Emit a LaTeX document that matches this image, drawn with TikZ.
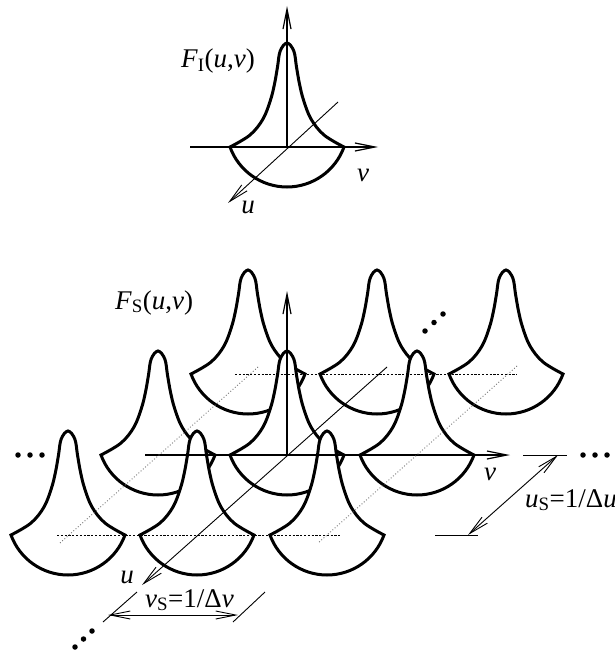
\documentclass[tikz,border=0pt]{standalone}
\usepackage{fontspec}
\setmainfont{Liberation Serif}
\usetikzlibrary{arrows.meta}
\tikzset{
  peakline/.style={line width=3pt, fill=white, line join=miter},
  axis/.style={line width=1.2pt},
  thinax/.style={line width=0.9pt},
  dashline/.style={line width=1pt, dash pattern=on 2.2pt off 1.6pt},
  dotline/.style={line width=0.9pt, black!55, dash pattern=on 0.9pt off 2.1pt},
  endtip/.style={-{Straight Barb[length=20pt,width=8pt]}},
  bothtip/.style={{Straight Barb[length=20pt,width=8pt]}-{Straight Barb[length=20pt,width=8pt]}},
  lab/.style={font=\fontsize{27}{32}\selectfont, inner sep=0pt},
  dotmark/.style={circle, fill, inner sep=0pt, minimum size=5.5pt},
  peak/.pic={
    \filldraw[peakline] plot[smooth,tension=0.6] coordinates {(-57,0) (-37,-12) (-24,-28) (-16.5,-47) (-12.5,-63) (-9.5,-80) (-6.8,-96) (0,-104) (6.8,-96) (9.5,-80) (12.5,-63) (16.5,-47) (24,-28) (37,-12) (57,0)}
      .. controls (48.3,24) and (25.5,40) .. (0,40) .. controls (-25.5,40) and (-48.3,24) .. (-57,0) -- cycle;
  }
}
\begin{document}
\begin{tikzpicture}[x=1pt,y=-1pt]
\useasboundingbox (0,0) rectangle (614,652);
% ---------- top figure ----------
\pic at (287,147) {peak};
\coordinate (tO) at (287,147);
\coordinate (tVt) at (287,6);
\coordinate (tHl) at (190,147);
\coordinate (tHr) at (378,147);
\coordinate (tUb) at (338,102);
\coordinate (tUf) at (228,203);
\draw[axis] (tHl) -- (tO);
\draw[axis,endtip] (tO) -- (tHr);
\draw[axis,endtip] (tO) -- (tVt);
\draw[thinax,endtip] (tUb) -- (tUf);
\node[lab,anchor=base west] (FI) at (181,68) {\textit{F}\textsubscript{I}(\textit{u},\textit{v})};
\node[lab,anchor=base] (tv) at (363,182) {\textit{v}};
\node[lab,anchor=base] (tu) at (248,213) {\textit{u}};
% ---------- bottom figure: peaks back to front ----------
\pic at (248,374) {peak};
\pic at (377,374) {peak};
\pic at (506,374) {peak};
\pic at (158,455) {peak};
\pic at (287,455) {peak};
\pic at (417,455) {peak};
\pic at (68,535) {peak};
\pic at (197,535) {peak};
\pic at (327,535) {peak};
% ---------- lines ----------
\coordinate (O) at (287,455);
\coordinate (Vt) at (287,291);
\coordinate (Hl) at (145,455);
\coordinate (Hr) at (510,455);
\coordinate (Ub) at (387,367);
\coordinate (Uf) at (142,585);
\draw[axis] (Hl) -- (O);
\draw[axis,endtip] (O) -- (Hr);
\draw[axis,endtip] (O) -- (Vt);
\draw[thinax,endtip] (Ub) -- (Uf);
\coordinate (bdL) at (235,374); \coordinate (bdR) at (517,374);
\coordinate (fdL) at (57,535);  \coordinate (fdR) at (340,535);
\draw[dashline] (bdL) -- (bdR);
\draw[dashline] (fdL) -- (fdR);
\coordinate (ldB) at (258,367); \coordinate (ldF) at (60,543);
\coordinate (rdB) at (517,366); \coordinate (rdF) at (318,543);
\draw[dotline] (ldB) -- (ldF);
\draw[dotline] (rdB) -- (rdF);
% dimension v_S
\coordinate (e1a) at (137,592); \coordinate (e1b) at (103,622);
\coordinate (e2a) at (265,592); \coordinate (e2b) at (233,622);
\draw[thinax] (e1a) -- (e1b);
\draw[thinax] (e2a) -- (e2b);
\coordinate (vsL) at (108,615); \coordinate (vsR) at (238,615);
\draw[thinax,bothtip] (vsL) -- (vsR);
\node[lab,anchor=base west] (vS) at (145,607) {\textit{v}\textsubscript{S}=1/Δ\textit{v}};
% dimension u_S
\coordinate (e3a) at (523,455); \coordinate (e3b) at (567,455);
\coordinate (e4a) at (435,535); \coordinate (e4b) at (478,535);
\draw[thinax] (e3a) -- (e3b);
\draw[thinax] (e4a) -- (e4b);
\coordinate (usT) at (558,455); \coordinate (usB) at (468,535);
\draw[thinax,bothtip] (usT) -- (usB);
\node[lab,anchor=base west] (uS) at (525,507) {\textit{u}\textsubscript{S}=1/Δ\textit{u}};
% labels
\node[lab,anchor=base west] (FS) at (115,309) {\textit{F}\textsubscript{S}(\textit{u},\textit{v})};
\node[lab,anchor=base] (bu) at (127,583) {\textit{u}};
\node[lab,anchor=base] (bv) at (490,480) {\textit{v}};
% ellipsis dots
\foreach \p [count=\k] in {(18,455),(30,455),(42,455),(583,455),(595,455),(607,455),(425,331),(434,322.5),(443,314),(75,647),(83.5,639),(92,631)}
  \node[dotmark] (d\k) at \p {};
\end{tikzpicture}
\end{document}
